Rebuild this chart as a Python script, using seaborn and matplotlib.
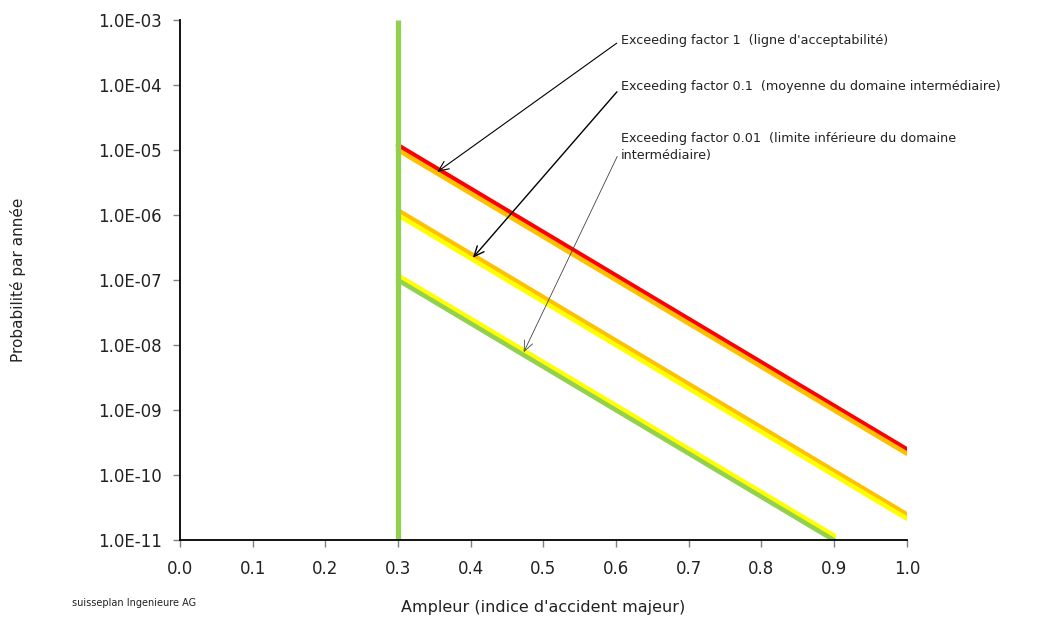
import seaborn as sns
import numpy as np
import matplotlib.pyplot as plt
import pandas as pd
from matplotlib.ticker import FuncFormatter, FixedLocator, NullLocator

# values
x_long = [0.3, 1.0]
x_short = [0.3, 0.9]
red_f1 = [1.18e-5, 2.5e-10]
orange_f1 = [1.0e-5, 2.15e-10]
orange_f01 = [1.18e-6, 2.5e-11]
yellow_f01 = [1.0e-6, 2.15e-11]
yellow_f001 = [1.18e-7, 1.18e-11]
green_f001 = [1.0e-7, 1.0e-11]
limit_x = [0.3, 0.3]
limit_y = [1e-11, 1e-3]

x_ticks = [0.0, 0.1, 0.2, 0.3, 0.4, 0.5, 0.6, 0.7, 0.8, 0.9, 1.0]
y_ticks = [1e-11, 1e-10, 1e-9, 1e-8, 1e-7, 1e-6, 1e-5, 1e-4, 1e-3]

labels = ["Exceeding factor 1  (ligne d'acceptabilité)",
          "Exceeding factor 0.1  (moyenne du domaine intermédiaire)",
          "Exceeding factor 0.01  (limite inférieure du domaine\nintermédiaire)"]

RED = "#FF0000"
ORANGE = "#FFC000"
YELLOW = "#FFFF00"
GREEN = "#92D050"

sns.set_theme(style="white")
plt.rcParams['font.family'] = ['DejaVu Sans']

fig = plt.figure(figsize=(10.52, 6.21), dpi=100)
ax = fig.add_axes([0.171, 0.130, 0.691, 0.838])
ax.set_yscale('log')

lw = 3.3
series = [
    (x_long, red_f1, RED),
    (x_long, orange_f1, ORANGE),
    (x_long, orange_f01, ORANGE),
    (x_long, yellow_f01, YELLOW),
    (x_short, yellow_f001, YELLOW),
    (x_short, green_f001, GREEN),
]
for xs, ys, col in series:
    df = pd.DataFrame({'x': xs, 'y': ys})
    sns.lineplot(data=df, x='x', y='y', ax=ax, color=col, linewidth=lw,
                 estimator=None, sort=False, solid_capstyle='round')

df_lim = pd.DataFrame({'x': limit_x, 'y': limit_y})
sns.lineplot(data=df_lim, x='x', y='y', ax=ax, color=GREEN, linewidth=3.8,
             estimator=None, sort=False, solid_capstyle='butt')

ax.set_xlim(0, 1.0)
ax.set_ylim(1e-11, 1e-3)
ax.xaxis.set_major_locator(FixedLocator(x_ticks))
ax.xaxis.set_major_formatter(FuncFormatter(lambda v, p: f"{v:.1f}"))
ax.yaxis.set_major_locator(FixedLocator(y_ticks))
ax.yaxis.set_minor_locator(NullLocator())
ax.yaxis.set_major_formatter(FuncFormatter(lambda v, p: f"{v:.1E}"))

for side in ['top', 'right']:
    ax.spines[side].set_visible(False)
for side in ['left', 'bottom']:
    ax.spines[side].set_color('black')
    ax.spines[side].set_linewidth(1.3)

ax.tick_params(axis='both', which='major', direction='out', length=5,
               width=1, color='#808080', labelsize=12, labelcolor='#222222',
               bottom=True, left=True)
ax.tick_params(axis='y', pad=8)
ax.tick_params(axis='x', pad=9)
ax.grid(False)

ax.set_xlabel("Ampleur (indice d'accident majeur)", fontsize=11.5, color='#222222', labelpad=16)
ax.set_ylabel("Probabilité par année", fontsize=11, color='#222222', labelpad=52)

# annotations
text_x = 0.607
arrow_head = '->,head_length=0.8,head_width=0.35'
ax.annotate(labels[0], xy=(0.354, 4.6e-6), xytext=(text_x, 4.9e-4),
            fontsize=9.2, ha='left', va='center', color='#222222',
            arrowprops=dict(arrowstyle=arrow_head, color='black', lw=0.8,
                            relpos=(0, 0.5), shrinkA=1, shrinkB=0))
ax.annotate(labels[1], xy=(0.403, 2.2e-7), xytext=(text_x, 9.3e-5),
            fontsize=9.2, ha='left', va='center', color='#222222',
            arrowprops=dict(arrowstyle=arrow_head, color='black', lw=1.0,
                            relpos=(0, 0.5), shrinkA=1, shrinkB=0))
ax.annotate(labels[2], xy=(0.473, 7.8e-9), xytext=(text_x, 1.12e-5),
            fontsize=9.2, ha='left', va='center', color='#222222', linespacing=1.35,
            arrowprops=dict(arrowstyle=arrow_head, color='#444444', lw=0.6,
                            relpos=(0, 0.45), shrinkA=1, shrinkB=0))

fig.text(0.068, 0.021, "suisseplan Ingenieure AG", fontsize=7, color='#222222',
         ha='left', va='bottom')

fig.savefig("out.png", dpi=100)
